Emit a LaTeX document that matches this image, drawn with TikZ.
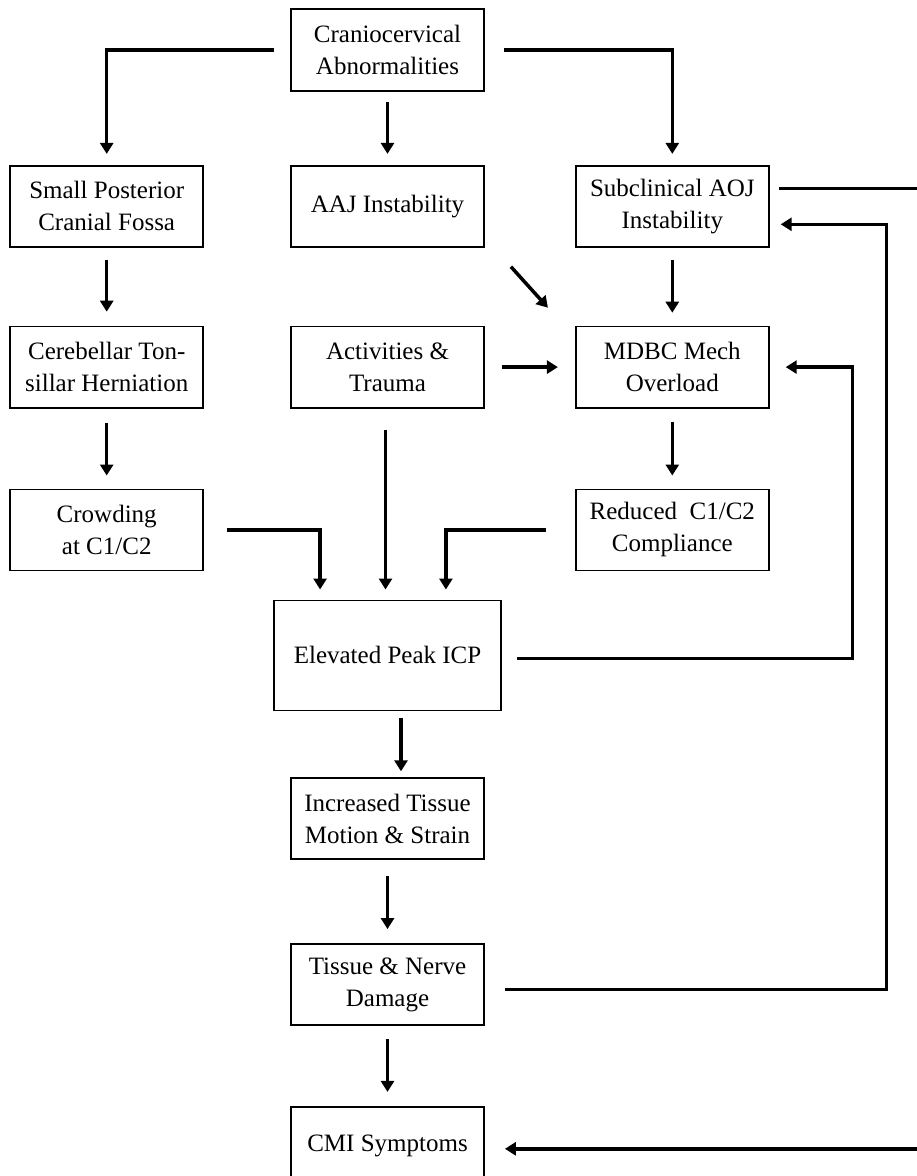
\documentclass[tikz,border=0pt]{standalone}
\usepackage{fontspec}
\setmainfont{Liberation Serif}
\usetikzlibrary{arrows.meta,positioning}

\begin{document}
\begin{tikzpicture}[
    font=\fontsize{12.5}{16}\selectfont,
    node distance=39pt and 43pt,
    box/.style={rectangle,draw,line width=0.9pt,align=center,minimum width=96.5pt,minimum height=40.5pt,inner sep=2pt},
    arr/.style={-{Triangle[length=5.5pt,width=6.5pt]},line width=1.75pt},
    lin/.style={line width=1.75pt}
]
\useasboundingbox (0,0) rectangle (458pt,-588pt);
\coordinate (edge) at (462pt,0);

\node[box,minimum height=41pt] (cc) at (193.75pt,-25pt) {Craniocervical\\Abnormalities};
\node[box,below=36.5pt of cc] (aaj) {AAJ Instability};
\node[box,left=43pt of aaj] (spcf) {Small Posterior\\Cranial Fossa};
\node[box,right=45pt of aaj] (aoj) {Subclinical AOJ\\Instability};
\node[box,below=of spcf] (cth) {Cerebellar Ton-\\sillar Herniation};
\node[box,below=of aaj] (act) {Activities \&\\Trauma};
\node[box,below=of aoj] (mdbc) {MDBC Mech\\Overload};
\node[box,below=40pt of cth] (crowd) {Crowding\\at C1/C2};
\node[box,below=40pt of mdbc] (red) {Reduced~ C1/C2\\Compliance};
\node[box,below=95.5pt of act,minimum width=113.5pt,minimum height=55pt] (icp) {Elevated Peak ICP};
\node[box,below=33pt of icp] (motion) {Increased Tissue\\Motion \& Strain};
\node[box,below=41.5pt of motion] (dmg) {Tissue \& Nerve\\Damage};
\node[box,below=40pt of dmg,minimum height=39pt] (cmi) {CMI Symptoms};

% top fan-out
\draw[arr,shorten <=8pt,shorten >=5.5pt] (cc.west) -| (spcf.north);
\draw[arr,shorten <=5pt,shorten >=5.5pt] (cc.south) -- (aaj.north);
\draw[arr,shorten <=9.5pt,shorten >=5.5pt] (cc.east) -| (aoj.north);

% columns
\draw[arr,shorten <=6pt,shorten >=7pt] (spcf.south) -- (cth.north);
\draw[arr,shorten <=7pt,shorten >=6.5pt] (cth.south) -- (crowd.north);
\draw[arr,shorten <=6pt,shorten >=6.5pt] (aoj.south) -- (mdbc.north);
\draw[arr,shorten <=6.5pt,shorten >=6.5pt] (mdbc.south) -- (red.north);
\draw[arr] ([shift={(13pt,-9.5pt)}]aaj.south east) -- ([shift={(-13.5pt,9pt)}]mdbc.north west);
\draw[arr,shorten <=8.5pt,shorten >=8.5pt] (act.east) -- (mdbc.west);

% into ICP
\draw[arr,shorten <=11.5pt,shorten >=5pt] (crowd.east) -| ([xshift=23.5pt]icp.north west);
\draw[arr,shorten <=10.5pt,shorten >=5pt] ([xshift=-1pt]act.south) -- ([xshift=-1pt]act.south |- icp.north);
\draw[arr,shorten <=14.5pt,shorten >=5pt] (red.west) -| ([xshift=-28pt]icp.north east);

% down the middle
\draw[arr,shorten <=3.5pt,shorten >=3pt] ([xshift=6.75pt]icp.south) -- ([xshift=6.75pt]icp.south |- motion.north);
\draw[arr,shorten <=8pt,shorten >=7pt] (motion.south) -- (dmg.north);
\draw[arr,shorten <=6.5pt,shorten >=7pt] (dmg.south) -- (cmi.north);

% feedback loops
\draw[arr,shorten <=7.5pt,shorten >=8pt] ([yshift=-1.5pt]icp.east) -| ([xshift=41.5pt]mdbc.east) -- (mdbc.east);
\draw[arr,shorten <=10pt,shorten >=5.5pt] ([yshift=-2.5pt]dmg.east) -| ([shift={(58.5pt,-9pt)}]aoj.east) -- ([yshift=-9pt]aoj.east);
\draw[lin,shorten <=4.5pt] ([yshift=9pt]aoj.east) -- ([yshift=9pt]aoj.east -| edge);
\draw[arr,shorten >=10pt] ([yshift=-1.5pt]cmi.east -| edge) -- ([yshift=-1.5pt]cmi.east);
\end{tikzpicture}
\end{document}
